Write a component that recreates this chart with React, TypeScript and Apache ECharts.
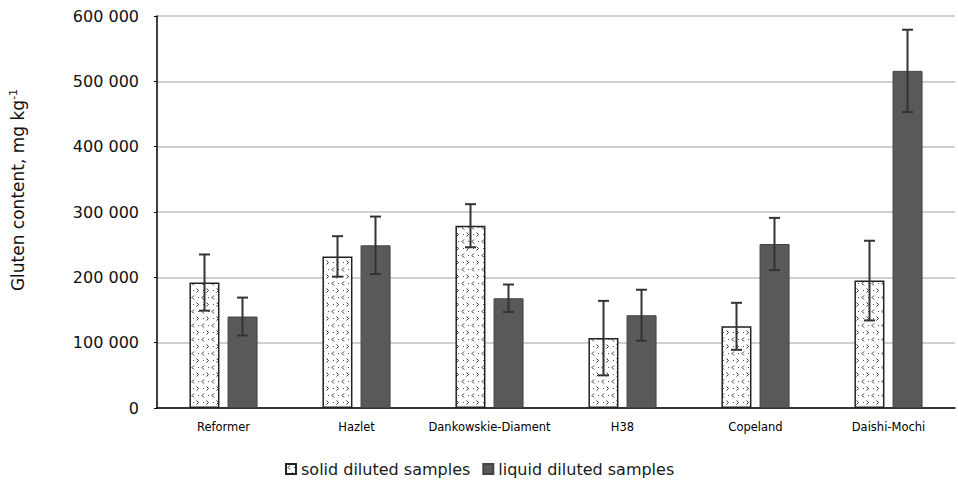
import React, { useEffect, useRef } from "react";
import * as echarts from "echarts";

const categories = ["Reformer", "Hazlet", "Dankowskie-Diament", "H38", "Copeland", "Daishi-Mochi"];
const seriesNames = ["solid diluted samples", "liquid diluted samples"];
const solidValues = [192000, 232000, 279000, 107000, 125000, 195000];
const solidErrors = [43000, 31000, 33000, 57000, 36000, 61000];
const liquidValues = [140000, 249000, 168000, 142000, 251000, 516000];
const liquidErrors = [29000, 44000, 21000, 39000, 40000, 63000];
const yMin = 0;
const yMax = 600000;
const yStep = 100000;

const FONT = "DejaVu Sans";

function makePattern(): string {
  const c = document.createElement("canvas");
  c.width = 10;
  c.height = 14;
  const ctx = c.getContext("2d")!;
  ctx.fillStyle = "#ffffff";
  ctx.fillRect(0, 0, 10, 14);
  ctx.strokeStyle = "#333333";
  ctx.lineWidth = 1;
  ctx.beginPath();
  ctx.moveTo(4, 1.5);
  ctx.lineTo(2, 3.5);
  ctx.lineTo(4, 5.5);
  ctx.stroke();
  ctx.beginPath();
  ctx.moveTo(6.5, 8.5);
  ctx.lineTo(8.5, 10.5);
  ctx.lineTo(6.5, 12.5);
  ctx.stroke();
  ctx.fillStyle = "#555555";
  ctx.fillRect(8, 3, 1, 1);
  ctx.fillRect(3, 10, 1, 1);
  return c.toDataURL();
}

function errData(values: number[], errs: number[]) {
  return values.map((v, i) => [i, v - errs[i], v + errs[i]]);
}

function errorSeries(name: string, values: number[], errs: number[], offset: number) {
  return {
    type: "custom",
    name: name + " error",
    silent: true,
    z: 10,
    data: errData(values, errs),
    encode: { x: 0, y: [1, 2] },
    renderItem: (params: any, api: any) => {
      const x = api.value(0);
      const lo = api.coord([x, api.value(1)]);
      const hi = api.coord([x, api.value(2)]);
      const cx = lo[0] + offset;
      const half = 5.5;
      const style = { stroke: "#333333", lineWidth: 2 };
      return {
        type: "group",
        children: [
          { type: "line", shape: { x1: cx, y1: lo[1], x2: cx, y2: hi[1] }, style },
          { type: "line", shape: { x1: cx - half, y1: hi[1], x2: cx + half, y2: hi[1] }, style },
          { type: "line", shape: { x1: cx - half, y1: lo[1], x2: cx + half, y2: lo[1] }, style },
        ],
      };
    },
  };
}

function fmt(v: number): string {
  return String(v).replace(/\B(?=(\d{3})+(?!\d))/g, " ");
}

export default function App() {
  const ref = useRef<HTMLDivElement>(null);
  useEffect(() => {
    if (!ref.current) return;
    const chart = echarts.init(ref.current, null, { renderer: "svg" });
    const pattern = makePattern();
    chart.setOption({
      animation: false,
      backgroundColor: "#ffffff",
      grid: { left: 157, right: 3, top: 16, bottom: 74 },
      legend: {
        data: seriesNames,
        icon: "rect",
        left: 280,
        top: 456,
        itemWidth: 10,
        itemHeight: 10,
        itemGap: 12,
        textStyle: { fontFamily: FONT, fontSize: 16, color: "#1a1a1a" },
      },
      xAxis: {
        type: "category",
        data: categories,
        axisLine: { lineStyle: { color: "#000000", width: 1.5 } },
        axisTick: { show: false },
        axisLabel: { interval: 0, fontFamily: FONT, fontSize: 11.5, color: "#000000", margin: 13 },
      },
      yAxis: {
        type: "value",
        min: yMin,
        max: yMax,
        interval: yStep,
        name: "{a|Gluten content, mg kg}{s|-1}",
        nameLocation: "middle",
        nameGap: 128,
        nameTextStyle: {
          padding: [0, 0, 0, 44],
          rich: {
            a: { fontFamily: FONT, fontSize: 17, color: "#111111", lineHeight: 22 },
            s: { fontFamily: FONT, fontSize: 11, color: "#111111", lineHeight: 22, padding: [0, 0, 9, 0] },
          },
        },
        axisLine: { show: true, lineStyle: { color: "#000000", width: 1.5 } },
        axisTick: { show: true, length: 3, lineStyle: { color: "#000000" } },
        splitLine: { lineStyle: { color: "#c0c0c0", width: 1.5 } },
        axisLabel: {
          fontFamily: FONT,
          fontSize: 16,
          color: "#111111",
          margin: 18,
          formatter: (v: number) => fmt(v),
        },
      },
      series: [
        {
          type: "bar",
          name: seriesNames[0],
          data: solidValues,
          barWidth: 30,
          barGap: "27%",
          itemStyle: {
            color: { image: pattern, repeat: "repeat" },
            borderColor: "#222222",
            borderWidth: 1.5,
          },
        },
        {
          type: "bar",
          name: seriesNames[1],
          data: liquidValues,
          barWidth: 30,
          itemStyle: { color: "#595959", borderColor: "#444444", borderWidth: 1 },
        },
        errorSeries(seriesNames[0], solidValues, solidErrors, -19),
        errorSeries(seriesNames[1], liquidValues, liquidErrors, 19),
      ],
    });
    return () => chart.dispose();
  }, []);
  return (
    <div
      ref={ref}
      style={{ position: "fixed", left: 0, top: 0, width: 958, height: 482, background: "#fff" }}
    />
  );
}
